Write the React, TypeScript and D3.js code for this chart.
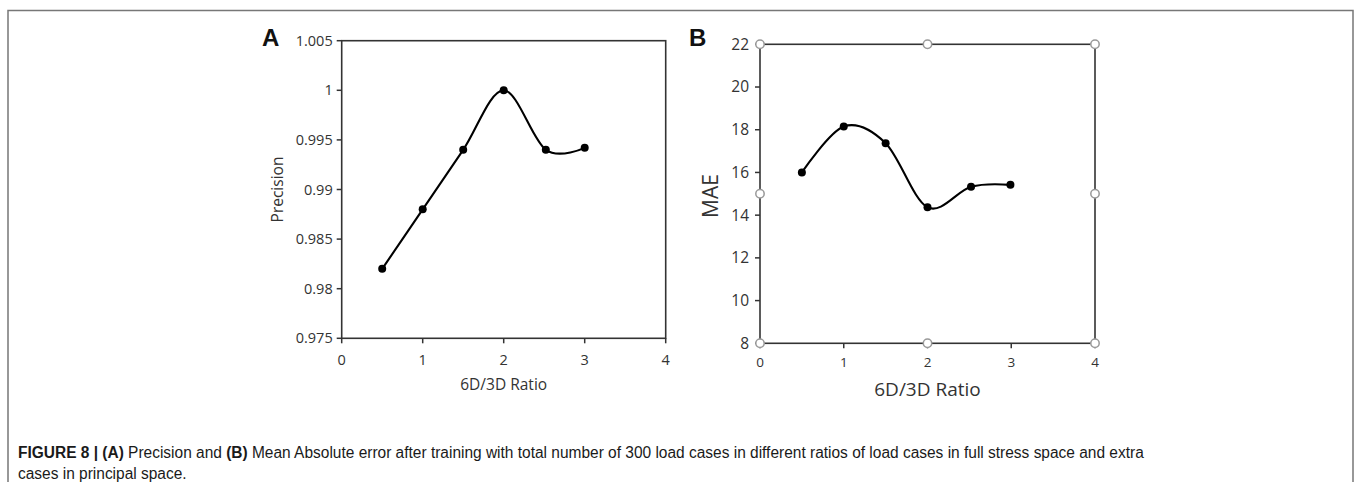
import React, { useLayoutEffect, useRef, useState } from 'react';
import * as d3 from 'd3';

const ratioA = [0.5, 1, 1.5, 2, 2.52, 3];
const precision = [0.982, 0.988, 0.994, 1.0, 0.994, 0.9942];
const ratioB = [0.5, 1, 1.5, 2, 2.52, 2.99];
const mae = [16.0, 18.15, 17.37, 14.37, 15.33, 15.42];
const xTicks = [0, 1, 2, 3, 4];
const yTicksA = [0.975, 0.98, 0.985, 0.99, 0.995, 1, 1.005];
const yTickLabelsA = ['0.975', '0.98', '0.985', '0.99', '0.995', '1', '1.005'];
const yTicksB = [8, 10, 12, 14, 16, 18, 20, 22];
const handleXB = [0, 2, 4];
const handleYB = [8, 15, 22];
const xTitle = '6D/3D Ratio';
const yTitleA = 'Precision';
const yTitleB = 'MAE';

const FONT = "'Open Sans', 'Liberation Sans', sans-serif";
const CAP_FONT = "'Liberation Sans', Arial, sans-serif";
const AXIS = '#333';

export default function App() {
  const A = { l: 341.7, r: 665.7, t: 40.7, b: 338.3 };
  const B = { l: 760, r: 1095, t: 44.3, b: 343.3 };
  const xA = d3.scaleLinear().domain([0, 4]).range([A.l, A.r]);
  const yA = d3.scaleLinear().domain([0.975, 1.005]).range([A.b, A.t]);
  const xB = d3.scaleLinear().domain([0, 4]).range([B.l, B.r]);
  const yB = d3.scaleLinear().domain([8, 22]).range([B.b, B.t]);

  const cap1 = useRef<SVGTextElement>(null);
  const [sx, setSx] = useState(0.85);
  useLayoutEffect(() => {
    if (cap1.current) {
      const len = cap1.current.getComputedTextLength();
      if (len > 0) setSx(1125 / len);
    }
  }, []);

  const lineA = d3
    .line<number>()
    .x((_, i) => xA(ratioA[i]))
    .y((d) => yA(d))
    .curve(d3.curveCardinal.tension(0));
  const lineB = d3
    .line<number>()
    .x((_, i) => xB(ratioB[i]))
    .y((d) => yB(d))
    .curve(d3.curveCardinal.tension(0));

  return (
    <svg
      width={1354}
      height={482}
      style={{ position: 'absolute', left: 0, top: 0, background: '#fff' }}
    >
      <path d="M8,482 V10.5 H1353 V482" fill="none" stroke="#777" strokeWidth={1.5} />

      {/* Panel A */}
      <text x={262} y={46} fontFamily={CAP_FONT} fontWeight="bold" fontSize={24} fill="#111">A</text>
      <rect x={A.l} y={A.t} width={A.r - A.l} height={A.b - A.t} fill="none" stroke={AXIS} strokeWidth={1.6} />
      {yTicksA.map((v, i) => (
        <g key={'ya' + i}>
          <line x1={A.l - 5} x2={A.l} y1={yA(v)} y2={yA(v)} stroke={AXIS} strokeWidth={1.5} />
          <text x={A.l - 9} y={yA(v)} dy="0.35em" textAnchor="end" fontFamily={FONT} fontSize={14.5} fill={AXIS}>
            {yTickLabelsA[i]}
          </text>
        </g>
      ))}
      {xTicks.map((v) => (
        <g key={'xa' + v}>
          <line x1={xA(v)} x2={xA(v)} y1={A.b} y2={A.b + 5} stroke={AXIS} strokeWidth={1.5} />
          <text x={xA(v)} y={A.b + 22} dy="0.35em" textAnchor="middle" fontFamily={FONT} fontSize={14.5} fill={AXIS}>
            {v}
          </text>
        </g>
      ))}
      <text x={(A.l + A.r) / 2} y={385} dy="0.35em" textAnchor="middle" fontFamily={FONT} fontSize={15.5} fill={AXIS}>
        {xTitle}
      </text>
      <text
        transform={`translate(278,${(A.t + A.b) / 2}) rotate(-90)`}
        dy="0.35em"
        textAnchor="middle"
        fontFamily={FONT}
        fontSize={15.5}
        fill={AXIS}
      >
        {yTitleA}
      </text>
      <path d={lineA(precision) || ''} fill="none" stroke="#000" strokeWidth={2.1} />
      {precision.map((v, i) => (
        <circle key={'pa' + i} cx={xA(ratioA[i])} cy={yA(v)} r={4} fill="#000" />
      ))}

      {/* Panel B */}
      <text x={689} y={46} fontFamily={CAP_FONT} fontWeight="bold" fontSize={24} fill="#111">B</text>
      <rect x={B.l} y={B.t} width={B.r - B.l} height={B.b - B.t} fill="none" stroke={AXIS} strokeWidth={1.6} />
      {yTicksB.map((v) => (
        <g key={'yb' + v}>
          <line x1={B.l - 5} x2={B.l} y1={yB(v)} y2={yB(v)} stroke={AXIS} strokeWidth={1.5} />
          <text x={B.l - 11} y={yB(v)} dy="0.35em" textAnchor="end" fontFamily={FONT} fontSize={15.5} fill={AXIS}>
            {v}
          </text>
        </g>
      ))}
      {xTicks.map((v) => (
        <g key={'xb' + v}>
          <line x1={xB(v)} x2={xB(v)} y1={B.b} y2={B.b + 5} stroke={AXIS} strokeWidth={1.5} />
          <text x={xB(v)} y={B.b + 19} dy="0.35em" textAnchor="middle" fontFamily={FONT} fontSize={13.5} fill={AXIS}>
            {v}
          </text>
        </g>
      ))}
      <text x={(B.l + B.r) / 2} y={389} dy="0.35em" textAnchor="middle" fontFamily={FONT} fontSize={19} fill={AXIS}>
        {xTitle}
      </text>
      <text
        transform={`translate(711,196) rotate(-90)`}
        dy="0.35em"
        textAnchor="middle"
        fontFamily={FONT}
        fontSize={21}
        fill={AXIS}
      >
        {yTitleB}
      </text>
      <path d={lineB(mae) || ''} fill="none" stroke="#000" strokeWidth={2.1} />
      {mae.map((v, i) => (
        <circle key={'pb' + i} cx={xB(ratioB[i])} cy={yB(v)} r={4} fill="#000" />
      ))}
      {handleXB.map((hx) =>
        handleYB.map((hy) =>
          hx === 2 && hy === 15 ? null : (
            <circle key={`h${hx}-${hy}`} cx={xB(hx)} cy={yB(hy)} r={4.2} fill="#fff" stroke="#999" strokeWidth={1.5} />
          )
        )
      )}

      {/* Caption */}
      <g transform={`translate(18,0) scale(${sx},1)`}>
        <text ref={cap1} x={0} y={458} fontFamily={CAP_FONT} fontSize={16} fill="#1a1a1a">
          <tspan fontWeight="bold">FIGURE 8 | (A)</tspan> Precision and <tspan fontWeight="bold">(B)</tspan> Mean Absolute error after training with total number of 300 load cases in different ratios of load cases in full stress space and extra
        </text>
        <text x={0} y={479.5} fontFamily={CAP_FONT} fontSize={16} fill="#1a1a1a">
          cases in principal space.
        </text>
      </g>
    </svg>
  );
}
